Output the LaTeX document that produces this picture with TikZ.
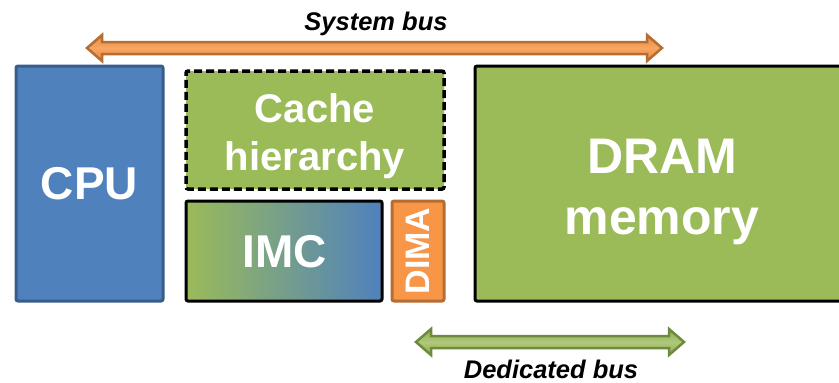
\documentclass[tikz,border=0pt]{standalone}
\usepackage{fontspec}
\setmainfont{Liberation Sans}
\usetikzlibrary{calc}
\definecolor{cpublue}{HTML}{4F81BD}
\definecolor{cpuedge}{HTML}{385D8A}
\definecolor{memgreen}{HTML}{9BBB59}
\definecolor{greenedge}{HTML}{6E8B3D}
\definecolor{dimaorange}{HTML}{F79646}
\definecolor{orangeedge}{HTML}{B66D31}
\tikzset{
  blk/.style={rectangle, inner sep=0pt, outer sep=0pt, line width=3pt, rounded corners=2pt},
  lbl/.style={inner sep=0pt, outer sep=0pt, text=white, font=\bfseries, align=center},
  buslbl/.style={inner sep=0pt, outer sep=0pt, anchor=base, font=\fontsize{25.5}{30}\selectfont\bfseries\itshape},
}
\begin{document}
\begin{tikzpicture}[x=1pt,y=-1pt]
\useasboundingbox (0,0) rectangle (839,383);
% blocks
\node[blk, fill=cpublue, draw=cpuedge, minimum width=147, minimum height=235] (cpu) at (89.5,183.5) {};
\node[blk, fill=memgreen, draw=black, line width=3.5pt, dash pattern=on 8pt off 4pt, minimum width=258, minimum height=118] (cache) at (315,130) {};
\node[blk, left color=memgreen, right color=cpublue, draw=black, minimum width=196, minimum height=100] (imc) at (284,251) {};
\node[blk, fill=dimaorange, draw=orangeedge, minimum width=52, minimum height=100] (dima) at (418,251) {};
\node[blk, fill=memgreen, draw=black, minimum width=374, minimum height=235] (dram) at (662,183.5) {};
% labels
\node[lbl, font=\fontsize{46}{55}\selectfont\bfseries] (cputxt) at (cpu.center) {CPU};
\node[lbl, font=\fontsize{40}{48}\selectfont\bfseries] (cachetxt) at ($(cache.center)+(0,6)$) {Cache\\hierarchy};
\node[lbl, font=\fontsize{46}{55}\selectfont\bfseries] (imctxt) at ($(imc.center)+(1,1)$) {IMC};
\node[lbl, font=\fontsize{34}{40}\selectfont\bfseries, rotate=90] (dimatxt) at (dima.center) {DIMA};
\node[lbl, font=\fontsize{50}{61}\selectfont\bfseries] (dramtxt) at ($(dram.center)+(0,8)$) {DRAM\\memory};
% system bus
\coordinate (sbL) at (87,48);
\coordinate (sbR) at (662,48);
\path[draw=orangeedge, line width=2.5pt, line join=miter, top color=dimaorange!92!black, bottom color=dimaorange!92!black, middle color=dimaorange!85!white]
  (sbL) -- ($(sbL)+(15,-13)$) -- ($(sbL)+(15,-6)$) -- ($(sbR)+(-15,-6)$) -- ($(sbR)+(-15,-13)$)
  -- (sbR) -- ($(sbR)+(-15,13)$) -- ($(sbR)+(-15,6)$) -- ($(sbL)+(15,6)$) -- ($(sbL)+(15,13)$) -- cycle;
\node[buslbl] (sbtxt) at (376,30) {System bus};
% dedicated bus
\coordinate (dbL) at (416,342);
\coordinate (dbR) at (684,342);
\path[draw=greenedge, line width=2.5pt, line join=miter, top color=memgreen!92!black, bottom color=memgreen!92!black, middle color=memgreen!80!white]
  (dbL) -- ($(dbL)+(15,-13)$) -- ($(dbL)+(15,-6)$) -- ($(dbR)+(-15,-6)$) -- ($(dbR)+(-15,-13)$)
  -- (dbR) -- ($(dbR)+(-15,13)$) -- ($(dbR)+(-15,6)$) -- ($(dbL)+(15,6)$) -- ($(dbL)+(15,13)$) -- cycle;
\node[buslbl] (dbtxt) at (551,378) {Dedicated bus};
\end{tikzpicture}
\end{document}
